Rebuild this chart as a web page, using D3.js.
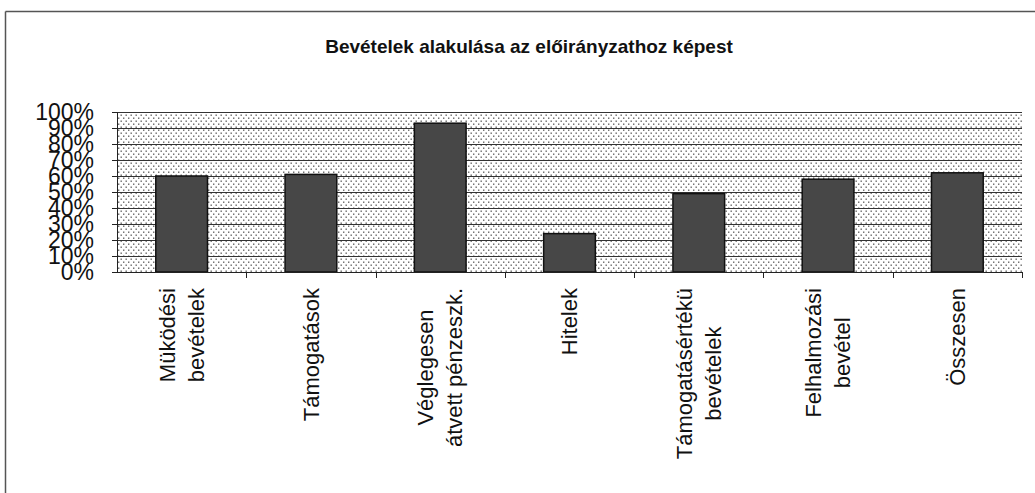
<!DOCTYPE html>
<html>
<head>
<meta charset="utf-8">
<script src="https://cdn.jsdelivr.net/npm/d3@7"></script>
<style>
  body { margin: 0; background: #fff; }
  text { font-family: "Liberation Sans", Arial, sans-serif; fill: #111; }
</style>
</head>
<body>
<div class="chart"></div>
<script>
var svgWidth = 1035;
var svgHeight = 493;

// data
var categories = ['Működési bevételek', 'Támogatások', 'Véglegesen átvett pénzeszk.', 'Hitelek',
  'Támogatásértékű bevételek', 'Felhalmozási bevétel', 'Összesen'];
var labelLines = [
  ['Müködési', 'bevételek'],
  ['Támogatások'],
  ['Véglegesen', 'átvett pénzeszk.'],
  ['Hitelek'],
  ['Támogatásértékü', 'bevételek'],
  ['Felhalmozási', 'bevétel'],
  ['Összesen']
];
var values = [0.60, 0.61, 0.93, 0.24, 0.49, 0.58, 0.62];
var yTicks = [0, 0.1, 0.2, 0.3, 0.4, 0.5, 0.6, 0.7, 0.8, 0.9, 1];
var title = 'Bevételek alakulása az előirányzathoz képest';

var plot = { left: 117, right: 1022, top: 112, bottom: 272 };

var svg = d3.select('.chart')
  .append('svg')
  .attr('width', svgWidth)
  .attr('height', svgHeight);

// dotted fill of the plot area
var defs = svg.append('defs');
var pat = defs.append('pattern')
  .attr('id', 'dots')
  .attr('patternUnits', 'userSpaceOnUse')
  .attr('width', 5)
  .attr('height', 6);
pat.append('rect').attr('width', 5).attr('height', 6).attr('fill', '#fff');
pat.append('rect').attr('x', 0.5).attr('y', 0.5).attr('width', 1.4).attr('height', 1.4).attr('fill', '#666');
pat.append('rect').attr('x', 3).attr('y', 3.5).attr('width', 1.4).attr('height', 1.4).attr('fill', '#666');

// scanned frame (top and left edges only)
svg.append('line').attr('x1', 5.5).attr('x2', svgWidth).attr('y1', 11.5).attr('y2', 11.5)
  .attr('stroke', '#555').attr('stroke-width', 1.5);
svg.append('line').attr('x1', 5.5).attr('x2', 5.5).attr('y1', 11.5).attr('y2', svgHeight)
  .attr('stroke', '#555').attr('stroke-width', 1.5);

svg.append('text')
  .attr('x', 529)
  .attr('y', 53)
  .attr('text-anchor', 'middle')
  .style('font-size', '19px')
  .style('font-weight', 'bold')
  .text(title);

var xScale = d3.scaleBand()
  .domain(categories)
  .range([plot.left, plot.right])
  .paddingInner(0.6)
  .paddingOuter(0.3);

var xCat = d3.scaleBand()
  .domain(categories)
  .range([plot.left, plot.right])
  .padding(0);

var yScale = d3.scaleLinear()
  .domain([0, 1])
  .range([plot.bottom, plot.top]);

svg.append('rect')
  .attr('x', plot.left)
  .attr('y', plot.top)
  .attr('width', plot.right - plot.left)
  .attr('height', plot.bottom - plot.top)
  .attr('fill', 'url(#dots)');

// gridlines
svg.append('g')
  .selectAll('line')
  .data(yTicks.slice(1))
  .enter()
  .append('line')
  .attr('x1', plot.left)
  .attr('x2', plot.right)
  .attr('y1', d => Math.round(yScale(d)) + 0.5)
  .attr('y2', d => Math.round(yScale(d)) + 0.5)
  .attr('stroke', '#333')
  .attr('stroke-width', 1);

// bars
svg.append('g')
  .selectAll('rect')
  .data(values)
  .enter()
  .append('rect')
  .attr('x', (d, i) => xScale(categories[i]))
  .attr('y', d => yScale(d))
  .attr('width', xScale.bandwidth())
  .attr('height', d => plot.bottom - yScale(d))
  .attr('fill', '#474747')
  .attr('stroke', '#111')
  .attr('stroke-width', 1.5);

// y axis
var leftAxis = d3.axisLeft(yScale)
  .tickValues(yTicks)
  .tickSize(5)
  .tickPadding(18)
  .tickFormat(d3.format('.0%'));

var yAxis = svg.append('g')
  .attr('transform', `translate(${plot.left}, 0)`)
  .call(leftAxis);
yAxis.select('.domain').attr('stroke', '#222');
yAxis.selectAll('.tick line').attr('stroke', '#222');
yAxis.selectAll('text')
  .style('font-size', '23px')
  .style('font-family', '"Liberation Sans", Arial, sans-serif')
  .attr('fill', '#111');

// x axis line and category separators
svg.append('line')
  .attr('x1', plot.left).attr('x2', plot.right)
  .attr('y1', plot.bottom + 0.5).attr('y2', plot.bottom + 0.5)
  .attr('stroke', '#222');
svg.append('g')
  .selectAll('line')
  .data(categories)
  .enter()
  .append('line')
  .attr('x1', d => Math.round(xCat(d) + xCat.bandwidth()) + 0.5)
  .attr('x2', d => Math.round(xCat(d) + xCat.bandwidth()) + 0.5)
  .attr('y1', plot.bottom)
  .attr('y2', plot.bottom + 6)
  .attr('stroke', '#222');

// rotated category labels, lines centred, longest line starting at the top
var labelTop = 288;
var lineGap = 29;
var labelGroups = svg.append('g')
  .selectAll('g')
  .data(labelLines)
  .enter()
  .append('g');

labelGroups.each(function(lines, i) {
  var g = d3.select(this);
  var cx = xCat(categories[i]) + xCat.bandwidth() / 2;
  var texts = lines.map(function(line, j) {
    return g.append('text')
      .style('font-size', '22px')
      .attr('text-anchor', 'middle')
      .attr('dy', '0.35em')
      .text(line);
  });
  var maxLen = d3.max(texts, t => t.node().getComputedTextLength());
  var cy = labelTop + maxLen / 2;
  texts.forEach(function(t, j) {
    var x = cx + (j - (lines.length - 1) / 2) * lineGap;
    t.attr('transform', `translate(${x}, ${cy}) rotate(-90)`);
  });
});
</script>
</body>
</html>
